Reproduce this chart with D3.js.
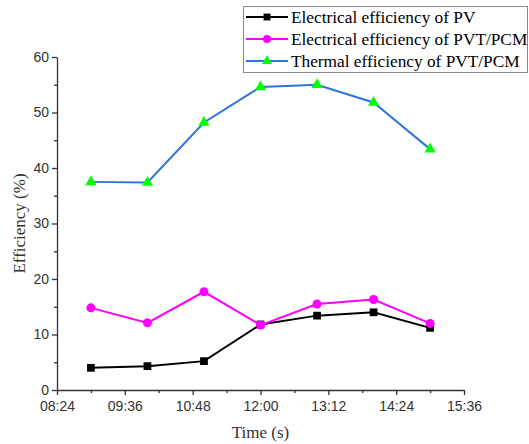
<!DOCTYPE html>
<html>
<head>
<meta charset="utf-8">
<script src="https://cdn.jsdelivr.net/npm/d3@7"></script>
<style>
  body { margin: 0; background: #fff; }
  svg { display: block; }
</style>
</head>
<body>
<div id="chart"></div>
<script>
// data
var hours = ["09:00", "10:00", "11:00", "12:00", "13:00", "14:00", "15:00"];
var pvElec = [4.0, 4.3, 5.2, 11.8, 13.4, 14.0, 11.2];
var pcmElec = [14.8, 12.1, 17.7, 11.7, 15.5, 16.3, 12.0];
var pcmThermal = [37.5, 37.4, 48.2, 54.6, 55.0, 51.8, 43.4];
var xTickLabels = ["08:24", "09:36", "10:48", "12:00", "13:12", "14:24", "15:36"];
var yTicks = [0, 10, 20, 30, 40, 50, 60];

var W = 529, H = 444;
var margin = {left: 57, right: 65, top: 57, bottom: 54};

var toMin = function(s){
	var p = s.split(":");
	return +p[0] * 60 + +p[1];
};

var svg = d3.select("#chart").append("svg")
	.attr("width", W)
	.attr("height", H);

var x = d3.scaleLinear()
	.domain([toMin("08:24"), toMin("15:36")])
	.range([margin.left, W - margin.right]);

var y = d3.scaleLinear()
	.domain([0, 60])
	.range([H - margin.bottom, margin.top]);

var axisColor = "#333";

// x axis
var xMajor = xTickLabels.map(toMin);
var xMinor = d3.range(toMin("08:24") + 36, toMin("15:36"), 72);

var gx = svg.append("g")
	.attr("transform", "translate(0," + (H - margin.bottom) + ")")
	.call(d3.axisBottom(x).tickValues(xMajor).tickSize(5).tickSizeOuter(0)
		.tickFormat(function(d, i){ return xTickLabels[i]; }));
gx.append("g").call(d3.axisBottom(x).tickValues(xMinor).tickSize(3).tickFormat(""))
	.select(".domain").remove();

// y axis
var gy = svg.append("g")
	.attr("transform", "translate(" + margin.left + ",0)")
	.call(d3.axisLeft(y).tickValues(yTicks).tickSize(5).tickSizeOuter(0));
gy.append("g").call(d3.axisLeft(y).tickValues(d3.range(5, 60, 10)).tickSize(3).tickFormat(""))
	.select(".domain").remove();

svg.selectAll(".domain, .tick line")
	.attr("stroke", axisColor)
	.attr("stroke-width", 1.3);
svg.selectAll(".tick text")
	.attr("fill", axisColor)
	.attr("font-family", "'Liberation Sans', Arial, sans-serif")
	.attr("font-size", 14);
gx.selectAll(".tick text").attr("dy", "0.95em");

// axis titles
svg.append("text")
	.attr("x", (x.range()[0] + x.range()[1]) / 2)
	.attr("y", 438)
	.attr("text-anchor", "middle")
	.attr("font-family", "'Liberation Serif', 'Times New Roman', serif")
	.attr("font-size", 17)
	.attr("fill", axisColor)
	.text("Time (s)");

svg.append("text")
	.attr("transform", "translate(25," + ((y.range()[0] + y.range()[1]) / 2) + ") rotate(-90)")
	.attr("text-anchor", "middle")
	.attr("font-family", "'Liberation Serif', 'Times New Roman', serif")
	.attr("font-size", 17)
	.attr("fill", axisColor)
	.text("Efficiency (%)");

// series
var series = [
	{name: "Electrical efficiency of PV", values: pvElec, line: "#000000", fill: "#000000", shape: d3.symbolSquare, size: 60},
	{name: "Electrical efficiency of PVT/PCM", values: pcmElec, line: "#ff00ff", fill: "#ff00ff", shape: d3.symbolCircle, size: 64},
	{name: "Thermal efficiency of PVT/PCM", values: pcmThermal, line: "#2f76d9", fill: "#00ff00", shape: d3.symbolTriangle, size: 55}
];

var lineGen = d3.line()
	.x(function(d){ return x(toMin(d.t)); })
	.y(function(d){ return y(d.v); });

series.forEach(function(s){
	var pts = hours.map(function(t, i){ return {t: t, v: s.values[i]}; });
	svg.append("path")
		.attr("d", lineGen(pts))
		.attr("fill", "none")
		.attr("stroke", s.line)
		.attr("stroke-width", 2);
	svg.selectAll(null)
		.data(pts)
		.enter()
		.append("path")
		.attr("d", d3.symbol().type(s.shape).size(s.size))
		.attr("transform", function(d){ return "translate(" + x(toMin(d.t)) + "," + y(d.v) + ")"; })
		.attr("fill", s.fill);
});

// legend
var legend = svg.append("g");
legend.append("rect")
	.attr("x", 243.5)
	.attr("y", 6.5)
	.attr("width", 284)
	.attr("height", 66)
	.attr("fill", "#fff")
	.attr("stroke", "#888")
	.attr("stroke-width", 1);

series.forEach(function(s, i){
	var cy = 17 + i * 22;
	legend.append("line")
		.attr("x1", 246).attr("x2", 288)
		.attr("y1", cy).attr("y2", cy)
		.attr("stroke", s.line)
		.attr("stroke-width", 2);
	legend.append("path")
		.attr("d", d3.symbol().type(s.shape).size(s.size * 0.8))
		.attr("transform", "translate(267," + cy + ")")
		.attr("fill", s.fill);
	legend.append("text")
		.attr("x", 291)
		.attr("y", cy + 5.5)
		.attr("font-family", "'Liberation Serif', 'Times New Roman', serif")
		.attr("font-size", 17.3)
		.attr("fill", "#000")
		.text(s.name);
});
</script>
</body>
</html>
